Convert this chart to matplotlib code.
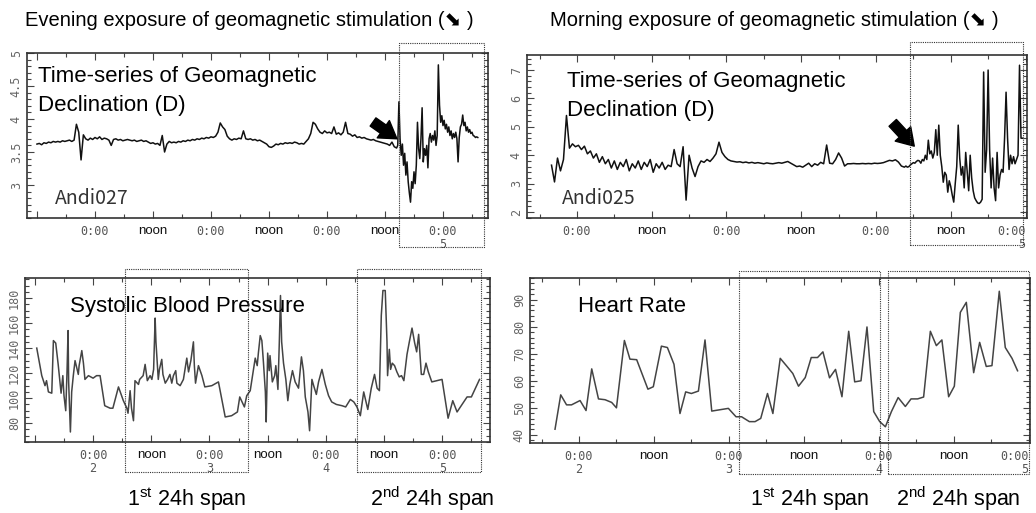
import numpy as np
import matplotlib
matplotlib.use('Agg')
import matplotlib.pyplot as plt
from matplotlib.patches import Rectangle
from matplotlib.transforms import blended_transform_factory
from matplotlib.ticker import MultipleLocator

plt.rcParams['font.family'] = ['Liberation Sans', 'DejaVu Sans']
plt.rcParams['mathtext.fontset'] = 'custom'
plt.rcParams['mathtext.rm'] = 'Liberation Sans'
plt.rcParams['mathtext.it'] = 'Liberation Sans:italic'

# time axis in days (2 = 0:00 of day 2, 2.5 = noon)
# geomagnetic declination D, evening exposure (Andi027)
d27_quiet_start, d27_quiet_step = 1.50, 0.02
d27_quiet = [3.62, 3.63, 3.61, 3.64, 3.63, 3.65, 3.64, 3.66, 3.65, 3.66,
             3.65, 3.67, 3.66, 3.67, 3.68, 3.66, 3.68, 3.92, 3.80, 3.38,
             3.76, 3.70, 3.68, 3.71, 3.69, 3.72, 3.70, 3.73, 3.69, 3.71,
             3.70, 3.68, 3.60, 3.69, 3.70, 3.68, 3.69, 3.67, 3.68, 3.69,
             3.68, 3.67, 3.68, 3.66, 3.67, 3.68, 3.66, 3.67, 3.65, 3.63,
             3.64, 3.62, 3.63, 3.60, 3.75, 3.50, 3.62, 3.66, 3.64, 3.65,
             3.64, 3.66, 3.65, 3.67, 3.66, 3.68, 3.67, 3.69, 3.68, 3.70,
             3.69, 3.71, 3.70, 3.72, 3.71, 3.73, 3.72, 3.74, 3.80, 3.94,
             3.88, 3.84, 3.74, 3.70, 3.68, 3.70, 3.69, 3.71, 3.70, 3.82,
             3.70, 3.69, 3.70, 3.68, 3.69, 3.67, 3.68, 3.66, 3.64, 3.62,
             3.58, 3.57, 3.59, 3.62, 3.61, 3.63, 3.62, 3.64, 3.63, 3.64,
             3.63, 3.65, 3.64, 3.62, 3.63, 3.62, 3.66, 3.70, 3.78, 3.95,
             3.92, 3.85, 3.80, 3.78, 3.82, 3.79, 3.80, 3.78, 3.88, 3.77,
             3.79, 3.76, 3.80, 3.95, 3.78, 3.77, 3.74, 3.76, 3.72, 3.73,
             3.71, 3.72, 3.70, 3.69, 3.68, 3.69, 3.67, 3.66, 3.65, 3.64,
             3.63, 3.62, 3.60, 3.65, 3.58]
d27_storm_start, d27_storm_step = 4.60, 0.01
d27_storm = [3.56, 3.60, 4.26, 3.70, 3.45, 3.62, 3.30, 3.48, 3.15, 3.35,
             3.05, 2.88, 2.74, 3.05, 2.95, 3.20, 3.02, 3.30, 3.95, 3.55,
             3.40, 3.70, 4.17, 3.35, 3.55, 3.45, 3.60, 3.26, 3.70, 3.78,
             3.65, 3.75, 3.68, 3.82, 3.60, 3.75, 4.82, 4.21, 3.95, 4.05,
             3.90, 3.98, 3.85, 3.92, 3.80, 3.88, 3.75, 3.82, 3.70, 3.78,
             3.72, 3.80, 3.70, 3.35, 3.72, 3.88, 3.92, 4.06, 3.90, 3.95,
             3.82, 3.88, 3.80, 3.84, 3.78, 3.80, 3.75, 3.74, 3.72, 3.73,
             3.72]

# geomagnetic declination D, morning exposure (Andi025)
d25_quiet_start, d25_quiet_step = 1.83, 0.02
d25_quiet = [3.65, 3.06, 3.90, 3.45, 3.85, 5.40, 4.25, 4.40, 4.30, 4.35,
             4.20, 4.32, 4.05, 4.15, 3.90, 4.05, 3.75, 3.95, 3.70, 3.85,
             3.55, 3.80, 3.50, 3.75, 3.60, 3.85, 3.45, 3.70, 3.55, 3.80,
             3.50, 3.75, 3.60, 3.85, 3.40, 3.70, 3.55, 3.75, 3.50, 3.65,
             3.60, 4.20, 3.70, 3.60, 4.30, 2.42, 4.00, 3.55, 3.25, 3.60,
             3.80, 3.75, 3.85, 3.78, 3.90, 4.05, 4.46, 4.10, 3.95, 3.85,
             3.80, 3.78, 3.76, 3.77, 3.74, 3.76, 3.73, 3.75, 3.72, 3.74,
             3.72, 3.70, 3.73, 3.71, 3.70, 3.72, 3.74, 3.72, 3.75, 3.78,
             3.72, 3.66, 3.60, 3.62, 3.58, 3.65, 3.72, 3.60, 3.70, 3.65,
             3.75, 3.70, 4.36, 3.72, 3.70, 3.85, 4.08, 3.90, 3.62, 3.70,
             3.70, 3.71, 3.70, 3.70, 3.71, 3.70, 3.71, 3.70, 3.72, 3.71,
             3.72, 3.74, 3.78, 3.82, 3.80, 3.84, 3.76, 3.62, 3.58]
d25_storm_start, d25_storm_step = 4.20, 0.01
d25_storm = [3.62, 3.58, 3.60, 3.66, 3.70, 3.74, 3.72, 3.78, 3.82, 3.80,
             3.72, 3.85, 3.80, 4.00, 3.85, 4.53, 4.05, 4.15, 3.90, 4.10,
             4.90, 4.00, 5.06, 4.00, 3.60, 3.05, 3.40, 3.30, 2.70, 3.10,
             2.90, 2.60, 2.35, 3.00, 3.60, 5.06, 3.90, 3.30, 3.60, 2.85,
             4.10, 3.40, 2.75, 4.00, 3.20, 2.75, 2.50, 2.40, 2.32, 2.30,
             2.35, 2.45, 6.93, 3.40, 4.20, 7.00, 4.20, 2.85, 3.90, 2.85,
             2.40, 4.10, 2.85, 3.30, 3.50, 3.40, 4.60, 6.22, 4.60, 3.50,
             4.00, 3.70, 3.95, 3.70, 3.85, 4.00, 7.17, 4.60, 4.60]

# systolic blood pressure (mmHg)
bp_t = [1.516, 1.559, 1.587, 1.600, 1.616, 1.645, 1.659, 1.679, 1.700, 1.725,
        1.740, 1.750, 1.765, 1.776, 1.785, 1.790, 1.805, 1.816, 1.830, 1.845,
        1.860, 1.873, 1.880, 1.903, 1.917, 1.930, 1.960, 2.000, 2.030, 2.060,
        2.100, 2.146, 2.170, 2.218, 2.260, 2.290, 2.300, 2.318, 2.330, 2.347,
        2.360, 2.390, 2.400, 2.430, 2.447, 2.466, 2.490, 2.505, 2.520, 2.533,
        2.540, 2.560, 2.570, 2.590, 2.600, 2.620, 2.640, 2.660, 2.676, 2.690,
        2.710, 2.720, 2.748, 2.776, 2.805, 2.820, 2.840, 2.862, 2.870, 2.880,
        2.905, 2.935, 2.960, 3.020, 3.077, 3.135, 3.190, 3.240, 3.260, 3.300,
        3.320, 3.350, 3.370, 3.393, 3.410, 3.420, 3.436, 3.450, 3.464, 3.480,
        3.487, 3.500, 3.513, 3.520, 3.540, 3.560, 3.570, 3.588, 3.600, 3.610,
        3.620, 3.636, 3.656, 3.673, 3.690, 3.713, 3.736, 3.765, 3.790, 3.807,
        3.823, 3.846, 3.860, 3.880, 3.895, 3.918, 3.937, 3.966, 3.995, 4.023,
        4.050, 4.090, 4.138, 4.170, 4.210, 4.240, 4.267, 4.296, 4.325, 4.340,
        4.360, 4.390, 4.418, 4.440, 4.460, 4.476, 4.490, 4.510, 4.525, 4.530,
        4.545, 4.556, 4.570, 4.590, 4.610, 4.630, 4.650, 4.670, 4.697, 4.717,
        4.740, 4.763, 4.780, 4.797, 4.820, 4.840, 4.860, 4.880, 4.910, 4.998,
        5.050, 5.090, 5.127, 5.170, 5.213, 5.250, 5.320]
bp_v = [140, 118, 110, 114, 105, 104, 146, 144, 127, 104,
        118, 102, 90, 121, 154, 113, 73, 105, 118, 130,
        124, 119, 126, 138, 128, 115, 118, 116, 118, 118,
        94, 92, 92, 109, 98, 92, 88, 106, 92, 82,
        114, 111, 115, 118, 127, 114, 118, 115, 123, 164,
        145, 115, 123, 131, 119, 112, 115, 119, 112, 118,
        122, 112, 110, 115, 132, 121, 130, 145, 126, 112,
        126, 118, 109, 110, 113, 85, 86, 89, 101, 93,
        102, 106, 118, 132, 126, 136, 150, 146, 128, 105,
        81, 136, 122, 134, 113, 118, 126, 107, 145, 182,
        145, 128, 115, 98, 111, 122, 113, 108, 133, 122,
        101, 89, 74, 115, 110, 103, 113, 123, 111, 102,
        97, 95, 94, 93, 99, 97, 93, 86, 105, 99,
        91, 108, 119, 108, 106, 166, 186, 186, 145, 118,
        139, 123, 128, 126, 121, 117, 118, 114, 135, 145,
        156, 144, 137, 151, 119, 119, 128, 121, 113, 115,
        84, 98, 89, 95, 101, 101, 115]

# heart rate (bpm)
hr_t = [1.840, 1.878, 1.917, 1.950, 2.007, 2.047, 2.085, 2.130, 2.174, 2.218,
        2.250, 2.303, 2.340, 2.385, 2.418, 2.460, 2.496, 2.550, 2.590, 2.634,
        2.674, 2.712, 2.750, 2.797, 2.841, 2.886, 2.930, 2.997, 3.048, 3.085,
        3.137, 3.175, 3.213, 3.258, 3.294, 3.343, 3.387, 3.427, 3.465, 3.510,
        3.550, 3.592, 3.628, 3.672, 3.712, 3.755, 3.800, 3.840, 3.882, 3.922,
        3.967, 4.007, 4.045, 4.085, 4.130, 4.178, 4.216, 4.260, 4.300, 4.345,
        4.385, 4.422, 4.467, 4.505, 4.545, 4.585, 4.634, 4.674, 4.718, 4.756,
        4.805, 4.845, 4.890, 4.927]
hr_v = [42.1, 54.8, 51.1, 51.1, 52.7, 49.0, 64.4, 53.3, 53.0, 52.0,
        50.0, 74.9, 68.0, 67.8, 63.0, 56.9, 57.8, 72.8, 72.3, 66.1,
        47.9, 55.9, 55.3, 56.2, 75.1, 48.8, 49.2, 49.8, 46.7, 46.7,
        44.9, 44.9, 46.1, 55.3, 47.9, 68.3, 65.4, 62.7, 58.0, 61.2,
        68.6, 68.6, 70.7, 61.1, 64.2, 54.1, 78.3, 59.6, 60.0, 79.9,
        48.6, 44.9, 43.0, 48.6, 53.8, 50.5, 53.3, 53.3, 54.0, 78.3,
        73.0, 75.1, 54.1, 58.0, 85.3, 89.0, 63.0, 74.2, 65.3, 65.6,
        93.1, 72.3, 68.3, 63.7]

W, H = 1036, 513
fig = plt.figure(figsize=(W / 100, H / 100), dpi=100)
fig.patch.set_facecolor('white')


def px_axes(l, t, r, b):
    return fig.add_axes([l / W, 1 - b / H, (r - l) / W, (b - t) / H])


def series(start, step, vals):
    return start + step * np.arange(len(vals)), np.array(vals)


def style(ax, xlim, ylim, xticks, xlabels, yticks, yminor, last_right=False):
    ax.set_xlim(xlim)
    ax.set_ylim(ylim)
    ax.set_xticks(xticks)
    ax.set_xticklabels(xlabels)
    ax.xaxis.set_minor_locator(MultipleLocator(0.25))
    ax.set_yticks(yticks)
    ax.set_yticklabels(['%g' % v for v in yticks], family='DejaVu Sans Mono',
                       rotation=90, va='center', fontsize=8.5, color='#666')
    ax.yaxis.set_minor_locator(MultipleLocator(yminor))
    ax.tick_params(which='both', direction='in', top=True, right=True,
                   color='#444', width=0.8)
    ax.tick_params(which='major', length=5)
    ax.tick_params(which='minor', length=3)
    ax.tick_params(axis='x', pad=5)
    ax.tick_params(axis='y', pad=3)
    labels = ax.get_xticklabels()
    for lbl in labels:
        if lbl.get_text() == 'noon':
            lbl.set_family('Liberation Sans')
            lbl.set_fontsize(9.5)
            lbl.set_color('#111')
        else:
            lbl.set_family('DejaVu Sans Mono')
            lbl.set_fontsize(8.5)
            lbl.set_color('#555')
            lbl.set_linespacing(1.0)
    if last_right:
        labels[-1].set_ha('right')
    for s in ax.spines.values():
        s.set_linewidth(1.2)
        s.set_color('#333')


def span_box(ax, t0, t1, top_px, bot_px):
    tr = blended_transform_factory(ax.transData, fig.transFigure)
    y0, y1 = 1 - bot_px / H, 1 - top_px / H
    fig.add_artist(Rectangle((t0, y0), t1 - t0, y1 - y0, transform=tr,
                             fill=False, ls=(0, (1, 1)), lw=0.8, ec='#333'))


arrow_props = dict(arrowstyle='simple,head_length=0.75,head_width=0.95,tail_width=0.45',
                   fc='black', ec='black', mutation_scale=16, shrinkA=0, shrinkB=0)

ax_tl = px_axes(27, 53, 488, 218)
ax_tr = px_axes(527, 55, 1027, 218)
ax_bl = px_axes(25, 278, 490, 442)
ax_br = px_axes(530, 278, 1030, 443)

# top left: evening exposure
t1, v1 = series(d27_quiet_start, d27_quiet_step, d27_quiet)
t2, v2 = series(d27_storm_start, d27_storm_step, d27_storm)
ax_tl.plot(np.r_[t1, t2], np.r_[v1, v2], color='#111', lw=1.1)
style(ax_tl, (1.414, 5.388), (2.5, 5.0),
      [1.5, 2, 2.5, 3, 3.5, 4, 4.5, 5],
      ['', '0:00', 'noon', '0:00', 'noon', '0:00', 'noon', '0:00\n5'],
      [3, 3.5, 4, 4.5, 5], 0.1)
ax_tl.text(0.024, 0.921, 'Time-series of Geomagnetic\nDeclination (D)',
           transform=ax_tl.transAxes, fontsize=16, va='top', ha='left', linespacing=1.5)
ax_tl.text(0.061, 0.085, 'Andi027', transform=ax_tl.transAxes, fontsize=14,
           color='#333', family=['Noto Sans CJK JP', 'DejaVu Sans'], va='baseline')
ax_tl.annotate('', xy=(4.603, 3.70), xytext=(4.397, 3.955), arrowprops=arrow_props)
span_box(ax_tl, 4.62, 5.35, 43, 247)

# top right: morning exposure
t1, v1 = series(d25_quiet_start, d25_quiet_step, d25_quiet)
t2, v2 = series(d25_storm_start, d25_storm_step, d25_storm)
ax_tr.plot(np.r_[t1, t2], np.r_[v1, v2], color='#111', lw=1.1)
style(ax_tr, (1.666, 5.01), (1.79, 7.53),
      [2, 2.5, 3, 3.5, 4, 4.5, 5],
      ['0:00', 'noon', '0:00', 'noon', '0:00', 'noon', '0:00\n5'],
      [2, 3, 4, 5, 6, 7], 0.2, last_right=True)
ax_tr.text(0.08, 0.902, 'Time-series of Geomagnetic\nDeclination (D)',
           transform=ax_tr.transAxes, fontsize=16, va='top', ha='left', linespacing=1.5)
ax_tr.text(0.07, 0.086, 'Andi025', transform=ax_tr.transAxes, fontsize=14,
           color='#333', family=['Noto Sans CJK JP', 'DejaVu Sans'], va='baseline')
ax_tr.annotate('', xy=(4.256, 4.32), xytext=(4.112, 5.14), arrowprops=arrow_props)
span_box(ax_tr, 4.23, 4.98, 42, 245)

# bottom left: systolic blood pressure
ax_bl.plot(bp_t, bp_v, color='#444', lw=1.1)
style(ax_bl, (1.415, 5.41), (65, 196),
      [1.5, 2, 2.5, 3, 3.5, 4, 4.5, 5],
      ['', '0:00\n2', 'noon', '0:00\n3', 'noon', '0:00\n4', 'noon', '0:00\n5'],
      [80, 100, 120, 140, 160, 180], 5)
ax_bl.text(0.097, 0.795, 'Systolic Blood Pressure', transform=ax_bl.transAxes,
           fontsize=16, va='baseline', ha='left')
span_box(ax_bl, 2.275, 3.33, 269, 472)
span_box(ax_bl, 4.27, 5.33, 269, 472)

# bottom right: heart rate
ax_br.plot(hr_t, hr_v, color='#444', lw=1.1)
style(ax_br, (1.673, 5.01), (37, 98),
      [2, 2.5, 3, 3.5, 4, 4.5, 5],
      ['0:00\n2', 'noon', '0:00\n3', 'noon', '0:00\n4', 'noon', '0:00\n5'],
      [40, 50, 60, 70, 80, 90], 2, last_right=True)
ax_br.text(0.096, 0.796, 'Heart Rate', transform=ax_br.transAxes,
           fontsize=16, va='baseline', ha='left')
span_box(ax_br, 3.07, 4.01, 271, 474)
span_box(ax_br, 4.06, 5.00, 271, 474)

# titles and span labels
fig.text(25 / W, 1 - 20 / H, 'Evening exposure of geomagnetic stimulation (\u2B0A )',
         fontsize=14.5, va='center', ha='left')
fig.text(550 / W, 1 - 20 / H, 'Morning exposure of geomagnetic stimulation (\u2B0A )',
         fontsize=14.5, va='center', ha='left')
for cx, lab in [(187, r'1$^{\rm st}$ 24h span'), (432, r'2$^{\rm nd}$ 24h span'),
                (810, r'1$^{\rm st}$ 24h span'), (958, r'2$^{\rm nd}$ 24h span')]:
    fig.text(cx / W, 1 - 506 / H, lab, fontsize=15.5, ha='center', va='baseline')

fig.savefig('out.png', dpi=100, facecolor='white')
